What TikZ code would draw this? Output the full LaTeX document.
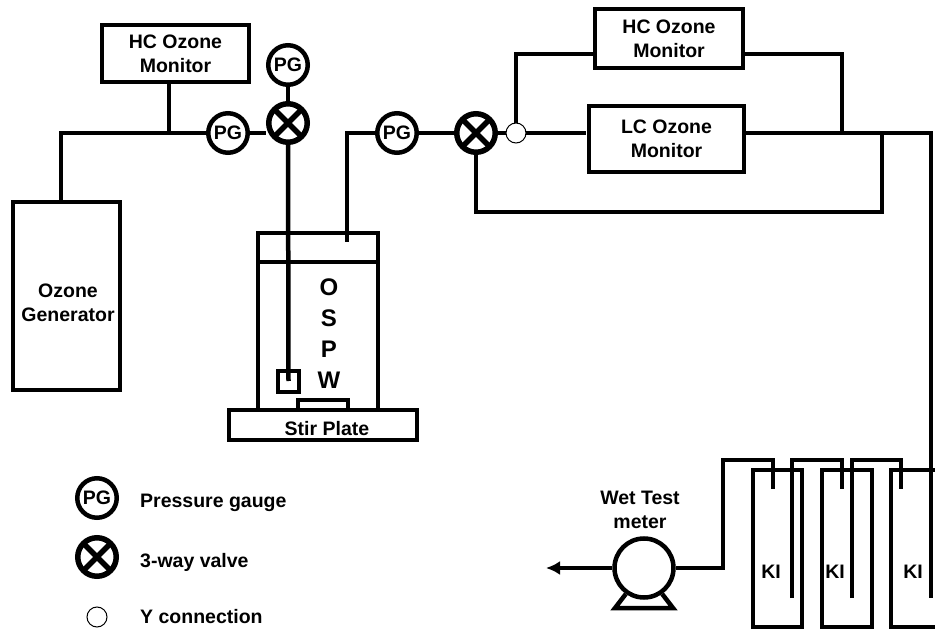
\documentclass[tikz,border=0pt]{standalone}
\usepackage{fontspec}
\usetikzlibrary{arrows.meta}
\setmainfont{Liberation Sans}
\tikzset{
  pipe/.style={line width=4.5pt, line join=miter},
  unitbox/.style={draw, line width=4pt, align=center, inner sep=0pt, font=\fontsize{19.5}{24}\selectfont\bfseries},
  gauge/.style={circle, draw, line width=4.5pt, fill=white, minimum size=39.5pt, inner sep=0pt, font=\fontsize{19.5}{22}\selectfont\bfseries},
  valve/.style={circle, draw, line width=5.5pt, fill=white, minimum size=38.5pt, inner sep=0pt,
    path picture={\draw[line width=5.5pt] (path picture bounding box.north west) -- (path picture bounding box.south east)
      (path picture bounding box.north east) -- (path picture bounding box.south west);}},
  yconn/.style={circle, draw, line width=1pt, fill=white, minimum size=20pt, inner sep=0pt},
  lbl/.style={font=\fontsize{19.5}{24}\selectfont\bfseries, align=center, inner sep=0pt},
}
\begin{document}
\begin{tikzpicture}[x=1pt, y=-1pt]
  \useasboundingbox (0,0) rectangle (935,631);
  % feed side
  \node[unitbox, minimum width=147pt, minimum height=57pt] (HCa) at (175.5,53.5) {HC Ozone\\Monitor};
  \node[unitbox, minimum width=107pt, minimum height=188pt] (gen) at (66.5,296) {};
  \node[lbl] (genText) at (68,303) {Ozone\\Generator};
  \node[gauge] (PGa) at (228,133) {PG};
  \node[gauge] (PGtop) at (288,65) {PG};
  \node[valve] (valveA) at (288,123) {};
  \coordinate (elbowA) at (61,133);
  \coordinate (teeA) at (169,133);
  \draw[pipe] (gen.north -| elbowA) -- (elbowA) -- (PGa.west |- elbowA);
  \draw[pipe] (HCa.south -| teeA) -- (teeA);
  \draw[pipe] (PGa.east) -- (valveA.west |- PGa);
  \draw[pipe] (PGtop) -- (valveA);
  % reactor
  \node[unitbox, minimum width=120pt, minimum height=29pt] (head) at (318,247.5) {};
  \node[unitbox, minimum width=120pt, minimum height=148pt] (vessel) at (318,336) {};
  \node[unitbox, minimum width=188pt, minimum height=30pt] (plate) at (323,425) {};
  \node[unitbox, minimum width=50pt, minimum height=10pt] (bar) at (323,405) {};
  \node[unitbox, minimum width=21pt, minimum height=21pt] (sparger) at (288.5,381) {};
  \draw[pipe] (valveA) -- (sparger.center);
  \node[lbl] (plateText) at (327,429) {Stir Plate};
  \node[inner sep=0pt, align=center, font=\fontsize{24}{31}\selectfont\bfseries] (OSPW) at (329,334) {O\\S\\P\\W};
  % monitors
  \node[gauge] (PGb) at (397,133) {PG};
  \node[valve] (valveB) at (476,133) {};
  \node[unitbox, minimum width=148pt, minimum height=59pt] (HCb) at (669,38.5) {HC Ozone\\Monitor};
  \node[unitbox, minimum width=155pt, minimum height=66pt] (LC) at (666.5,139) {LC Ozone\\Monitor};
  \coordinate (headend) at (347,242);
  \coordinate (Yin) at (516,133);
  \coordinate (elbowB) at (516,54);
  \coordinate (elbowC) at (842,54);
  \coordinate (teeB) at (842,133);
  \coordinate (teeC) at (882,133);
  \coordinate (elbowD) at (882,212);
  \coordinate (elbowE) at (476,212);
  \coordinate (elbowF) at (931,133);
  \coordinate (longC) at (931,598);
  \coordinate (LCend) at (586,133);
  \draw[pipe] (headend) -- (headend |- PGb) -- (PGb);
  \draw[pipe] (PGb) -- (valveB);
  \draw[pipe] (valveB) -- (Yin) -- (LCend);
  \draw[pipe] (Yin) -- (elbowB) -- (HCb.west |- elbowB);
  \draw[pipe] (HCb.east |- elbowC) -- (elbowC) -- (teeB);
  \draw[pipe] (LC.east |- teeB) -- (elbowF) -- (longC);
  \draw[pipe] (teeC) -- (elbowD) -- (elbowE) -- (valveB);
  \node[yconn] (Yc) at (Yin) {};
  % KI traps
  \draw[pipe] (753,470) rectangle (802,627);
  \draw[pipe] (822,470) rectangle (872,627);
  \draw[pipe] (891,470) rectangle (945,627);
  \node[lbl] (KIa) at (771,572) {KI};
  \node[lbl] (KIb) at (835,572) {KI};
  \node[lbl] (KIc) at (913,572) {KI};
  % meter
  \node[circle, draw, line width=4.5pt, minimum size=59pt, inner sep=0pt] (meter) at (644,568) {};
  \node[lbl] (wet) at (640,510) {Wet Test\\meter};
  \coordinate (out) at (546,568);
  \coordinate (footL) at (615,608);
  \coordinate (footR) at (673,608);
  \coordinate (up) at (723,568);
  \draw[pipe, -{Latex[length=14pt,width=14pt]}] (meter) -- (out);
  \draw[pipe] (meter.-125) -- (footL) -- (footR) -- (meter.-55);
  \draw[pipe] (meter) -- (up) -- (723,460) -- (773,460) -- (773,489);
  \draw[pipe] (792,598) -- (792,460) -- (842,460) -- (842,489);
  \draw[pipe] (852,598) -- (852,460) -- (901,460) -- (901,489);
  % legend
  \node[gauge] (keyPG) at (97,498) {PG};
  \node[valve] (keyV) at (97,557) {};
  \node[yconn] (keyY) at (97,617) {};
  \node[lbl, anchor=west] (txtPG) at (140,503) {Pressure gauge};
  \node[lbl, anchor=west] (txtV) at (140,562) {3-way valve};
  \node[lbl, anchor=west] (txtY) at (140,617) {Y connection};
\end{tikzpicture}
\end{document}
